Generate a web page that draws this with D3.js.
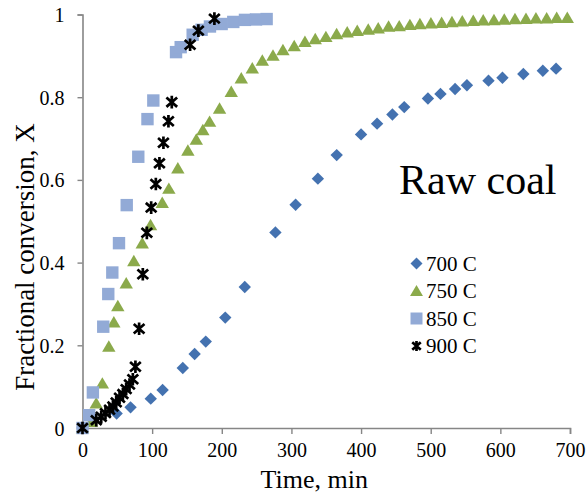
<!DOCTYPE html>
<html>
<head>
<meta charset="utf-8">
<script src="https://cdn.jsdelivr.net/npm/d3@7"></script>
<style>
  html, body { margin: 0; padding: 0; background: #fff; }
  svg { display: block; font-family: "Liberation Serif", "Times New Roman", serif; }
</style>
</head>
<body>
<svg id="chart" width="587" height="495"></svg>
<script>
// Fractional conversion of raw coal over time at four temperatures
const xTicks = [0, 100, 200, 300, 400, 500, 600, 700];
const yTicks = [0, 0.2, 0.4, 0.6, 0.8, 1];

const t700 = [0, 49, 69, 98, 115, 144, 161, 177, 205, 233, 277, 306, 338, 365, 400, 423, 445, 462, 496, 514, 535, 552, 583, 603, 633, 661, 680];
const x700 = [0, 0.035, 0.05, 0.071, 0.092, 0.145, 0.179, 0.209, 0.267, 0.341, 0.473, 0.540, 0.603, 0.660, 0.710, 0.736, 0.758, 0.776, 0.797, 0.808, 0.820, 0.829, 0.840, 0.847, 0.856, 0.864, 0.869];

const t750 = [0, 12.6, 19.7, 28.5, 37.8, 45, 50.7, 62.8, 73.7, 85.8, 97.7, 114.5, 124, 136.9, 151.3, 163.4, 172.8, 182.5, 196.8, 213.6, 228, 243.8, 258.2, 273.5, 287.8, 304, 319.4, 334.2, 349.5, 364.9, 380.1, 394.5, 410.3, 424.6, 439.5, 454.8, 470.1, 484.5, 500.3, 515.7, 530.5, 545.3, 561.1, 575.4, 590.8, 605.6, 621, 636.8, 651.1, 666.5, 680.9, 696.1];
const x750 = [0, 0.015, 0.06, 0.108, 0.197, 0.256, 0.295, 0.350, 0.404, 0.447, 0.491, 0.545, 0.579, 0.628, 0.671, 0.698, 0.721, 0.741, 0.773, 0.813, 0.846, 0.870, 0.889, 0.901, 0.914, 0.924, 0.934, 0.941, 0.946, 0.953, 0.957, 0.961, 0.964, 0.967, 0.971, 0.972, 0.975, 0.977, 0.979, 0.980, 0.982, 0.984, 0.985, 0.986, 0.987, 0.988, 0.989, 0.990, 0.991, 0.991, 0.992, 0.992];

const t850 = [0, 9.6, 14.9, 29.8, 37, 42.8, 52.4, 63.5, 80.1, 93.3, 101.7, 134.3, 141, 158.2, 171, 183, 199.8, 216.5, 233.3, 249.1, 264.4];
const x850 = [0, 0.031, 0.086, 0.245, 0.324, 0.376, 0.447, 0.539, 0.656, 0.747, 0.792, 0.909, 0.921, 0.951, 0.963, 0.971, 0.977, 0.982, 0.987, 0.988, 0.989];

const t900 = [0, 19.8, 26.9, 33, 38.8, 43.7, 48.4, 53.2, 58, 62.7, 67.5, 72.3, 76, 81.3, 86.6, 92.4, 98.6, 105.3, 110.5, 116.2, 123.4, 128.2, 154.5, 166.4, 189.4];
const x900 = [0, 0.019, 0.027, 0.036, 0.044, 0.052, 0.062, 0.073, 0.082, 0.094, 0.105, 0.118, 0.148, 0.24, 0.372, 0.472, 0.533, 0.590, 0.640, 0.690, 0.742, 0.788, 0.927, 0.961, 0.990];

const seriesNames = ["700 C", "750 C", "850 C", "900 C"];

const margin = { left: 82.5, top: 14.5, right: 17, bottom: 67 };
const W = 587, H = 495;
const innerW = W - margin.left - margin.right;
const innerH = H - margin.top - margin.bottom;

const svg = d3.select("#chart");
const g = svg.append("g").attr("transform", `translate(${margin.left},${margin.top})`);

const x = d3.scaleLinear().domain([0, 700]).range([0, innerW]);
const y = d3.scaleLinear().domain([0, 1]).range([innerH, 0]);

const axisColor = "#868686";

// Axes
const xAxis = g.append("g")
  .attr("transform", `translate(0,${innerH})`)
  .call(d3.axisBottom(x).tickValues(xTicks).tickSize(6).tickPadding(4).tickFormat(d3.format("d")));
const yAxis = g.append("g")
  .call(d3.axisLeft(y).tickValues(yTicks).tickSize(5).tickPadding(13).tickFormat(d => d === 0 || d === 1 ? String(d) : d3.format(".1f")(d)));

[xAxis, yAxis].forEach(a => {
  a.select(".domain").attr("stroke", axisColor).attr("stroke-width", 1.6);
  a.selectAll(".tick line").attr("stroke", axisColor).attr("stroke-width", 1.4);
  a.selectAll(".tick text").attr("fill", "#000").style("font-size", "20px")
    .style("font-family", '"Liberation Serif", "Times New Roman", serif');
});
xAxis.selectAll(".tick text").attr("dy", "0.95em");
yAxis.selectAll(".tick text").attr("dy", "0.35em");

// Marker shapes
const shapes = {
  diamond: r => `M0,${-r}L${r},0L0,${r}L${-r},0Z`,
  triangle: r => `M0,${-r}L${r * 1.08},${r * 0.85}L${-r * 1.08},${r * 0.85}Z`,
  square: r => `M${-r},${-r}H${r}V${r}H${-r}Z`,
  star: r => `M${-r * 0.85},${-r * 0.75}L${r * 0.85},${r * 0.75}M${r * 0.85},${-r * 0.75}L${-r * 0.85},${r * 0.75}M0,${-r}V${r}`
};

const series = [
  { name: seriesNames[0], t: t700, v: x700, shape: "diamond", size: 6.2, fill: "#4472B0", stroke: "none" },
  { name: seriesNames[1], t: t750, v: x750, shape: "triangle", size: 6.2, fill: "#8BAA4B", stroke: "none" },
  { name: seriesNames[2], t: t850, v: x850, shape: "square", size: 6.2, fill: "#92AAD6", stroke: "none" },
  { name: seriesNames[3], t: t900, v: x900, shape: "star", size: 6.3, fill: "none", stroke: "#000" }
];

function drawMarker(sel, s) {
  sel.attr("d", shapes[s.shape](s.size))
    .attr("fill", s.fill)
    .attr("stroke", s.stroke)
    .attr("stroke-width", s.shape === "star" ? 2.7 : 0)
    .attr("stroke-linecap", "butt");
}

series.forEach(s => {
  const pts = s.t.map((t, i) => ({ t, v: s.v[i] }));
  g.append("g").selectAll("path").data(pts).join("path")
    .attr("transform", d => `translate(${x(d.t)},${y(d.v)})`)
    .call(drawMarker, s);
});

// Legend
const legend = svg.append("g").attr("transform", "translate(416.5,263.5)");
series.forEach((s, i) => {
  const row = legend.append("g").attr("transform", `translate(0,${i * 27.5})`);
  row.append("path").call(drawMarker, Object.assign({}, s, { size: s.shape === "star" ? 5 : 6 }));
  row.append("text").attr("x", 9.5).attr("y", 7).text(s.name)
    .style("font-size", "21px").attr("fill", "#000");
});

// Annotation
svg.append("text").attr("x", 399).attr("y", 194).text("Raw coal")
  .style("font-size", "42px").attr("fill", "#000");

// Axis titles
svg.append("text").attr("x", margin.left + innerW / 2 - 12).attr("y", 488)
  .attr("text-anchor", "middle").text("Time, min")
  .style("font-size", "26px").attr("fill", "#000");
svg.append("text").attr("transform", "translate(34,257) rotate(-90)")
  .attr("text-anchor", "middle").text("Fractional conversion, X")
  .style("font-size", "27px").attr("fill", "#000");
</script>
</body>
</html>
